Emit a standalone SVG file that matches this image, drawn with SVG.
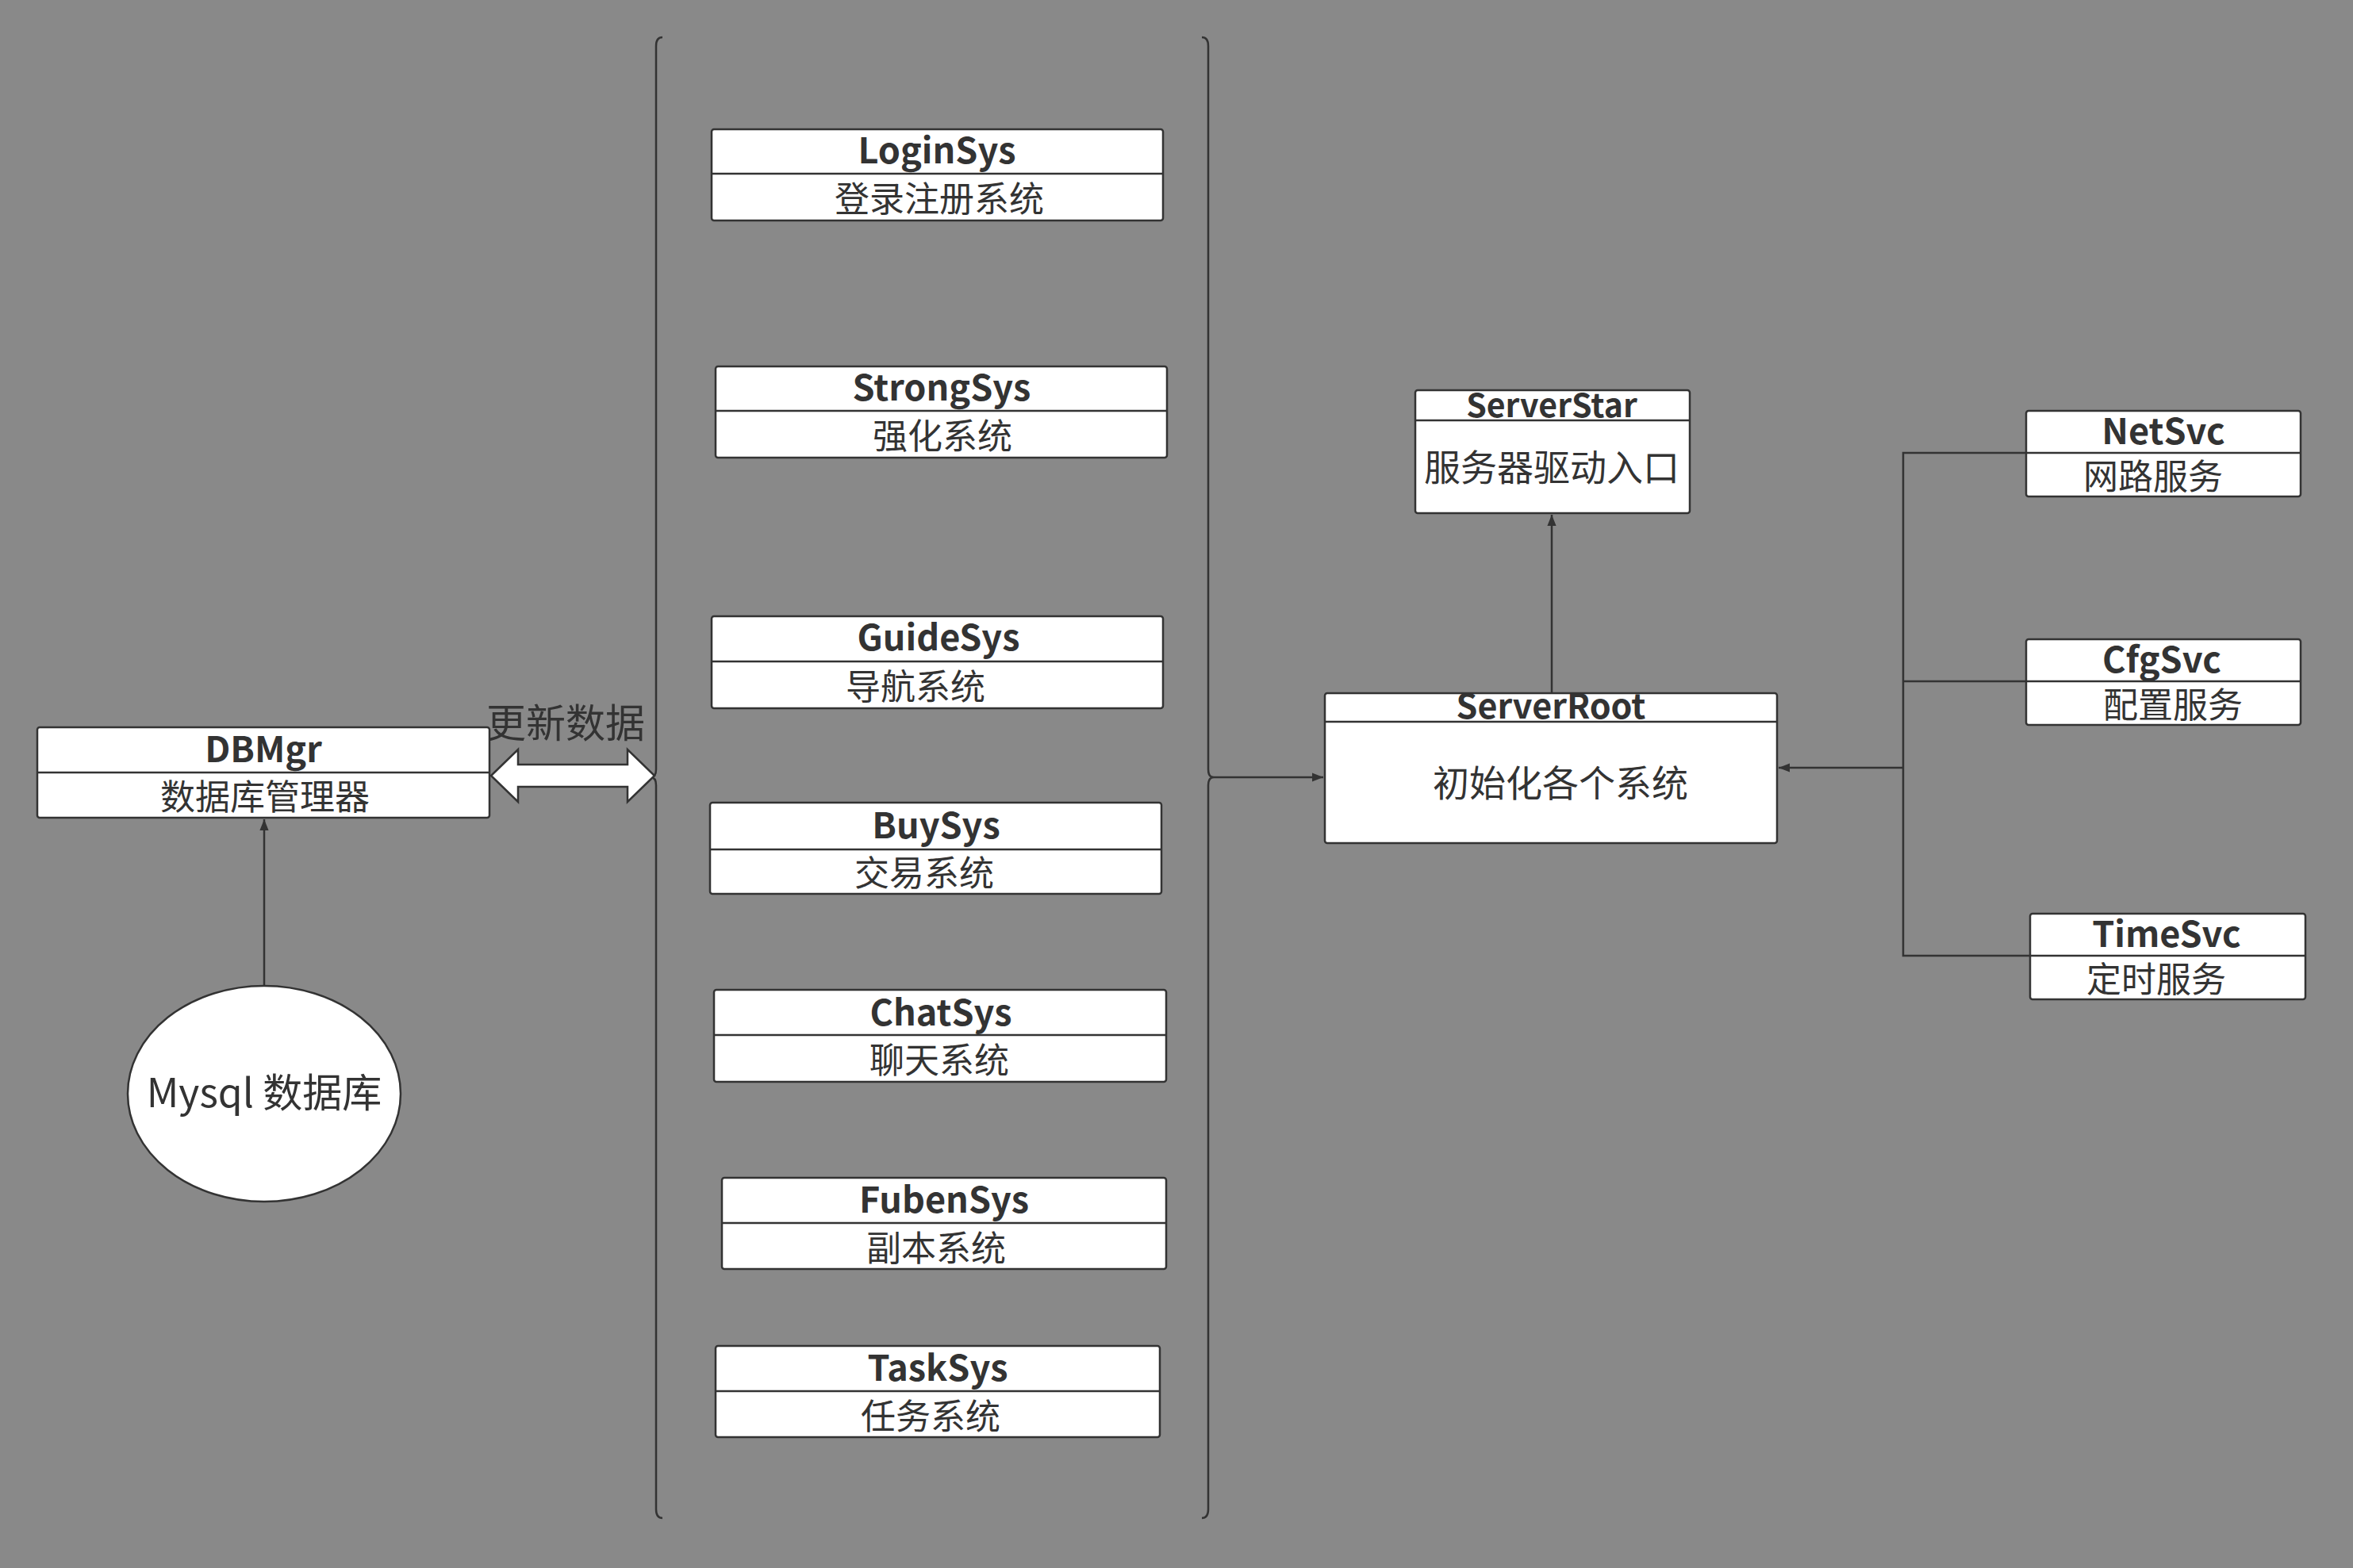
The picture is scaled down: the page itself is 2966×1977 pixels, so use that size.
<svg xmlns="http://www.w3.org/2000/svg" width="2966" height="1977" viewBox="0 0 2966 1977">
<defs>
<style>
.box{fill:#fff;stroke:#333;stroke-width:2.5}
.ln{fill:none;stroke:#333;stroke-width:2.5}
.t{font-family:"Noto Sans CJK SC","Noto Sans",sans-serif;font-weight:bold;font-size:45px;fill:#333;text-anchor:middle}
.s{font-family:"Noto Sans CJK SC","Noto Sans",sans-serif;font-size:44px;fill:#333;text-anchor:middle}
</style>
<marker id="ah2" viewBox="0 0 10 10" refX="10" refY="5" markerWidth="14" markerHeight="14" orient="auto" markerUnits="userSpaceOnUse">
<path d="M0,1 L10,5 L0,9 z" fill="#333"/>
</marker>
</defs>
<rect width="2966" height="1977" fill="#898989"/>
<g id="connectors">
<path class="ln" d="M835,47 Q827,47 827,58 L827,970 Q827,980 820,980 Q827,980 827,990 L827,1903 Q827,1914 835,1914"/>
<path class="ln" d="M1515,47 Q1523,47 1523,58 L1523,970 Q1523,980 1530,980 Q1523,980 1523,990 L1523,1903 Q1523,1914 1515,1914"/>
<path d="M619,978 L653,945 L653,964 L791,964 L791,945 L825,978 L791,1011 L791,992 L653,992 L653,1011 Z" fill="#fff" stroke="#333" stroke-width="2.5"/>
<text class="s" x="713" y="930" style="font-size:50px">更新数据</text>
<line class="ln" x1="333" y1="1243" x2="333" y2="1033" marker-end="url(#ah2)"/>
<line class="ln" x1="1530" y1="980" x2="1668" y2="980" marker-end="url(#ah2)"/>
<line class="ln" x1="1956" y1="874" x2="1956" y2="649" marker-end="url(#ah2)"/>
<path class="ln" d="M2554,571 L2399,571 L2399,1205 L2559,1205 M2399,859 L2554,859"/>
<line class="ln" x1="2399" y1="968" x2="2242" y2="968" marker-end="url(#ah2)"/>
</g>
<g id="DBMgr"><rect class="box" x="47" y="917" width="570" height="114" rx="3"/><line class="ln" x1="47" y1="974" x2="617" y2="974"/><text class="t" x="332" y="961">DBMgr</text><text class="s" x="334" y="1021">数据库管理器</text></g>
<g id="Mysql"><ellipse cx="333" cy="1379" rx="172" ry="136" fill="#fff" stroke="#333" stroke-width="2.5"/><text class="s" x="333" y="1396" style="font-size:50px">Mysql 数据库</text></g>
<g id="LoginSys"><rect class="box" x="897" y="163" width="569" height="115" rx="3"/><line class="ln" x1="897" y1="219" x2="1466" y2="219"/><text class="t" x="1181" y="206">LoginSys</text><text class="s" x="1184" y="267">登录注册系统</text></g>
<g id="StrongSys"><rect class="box" x="902" y="462" width="569" height="115" rx="3"/><line class="ln" x1="902" y1="518" x2="1471" y2="518"/><text class="t" x="1187" y="505">StrongSys</text><text class="s" x="1188" y="566">强化系统</text></g>
<g id="GuideSys"><rect class="box" x="897" y="777" width="569" height="116" rx="3"/><line class="ln" x1="897" y1="834" x2="1466" y2="834"/><text class="t" x="1183" y="820">GuideSys</text><text class="s" x="1154" y="882">导航系统</text></g>
<g id="BuySys"><rect class="box" x="895" y="1012" width="569" height="115" rx="3"/><line class="ln" x1="895" y1="1071" x2="1464" y2="1071"/><text class="t" x="1180" y="1057">BuySys</text><text class="s" x="1165" y="1117">交易系统</text></g>
<g id="ChatSys"><rect class="box" x="900" y="1248" width="570" height="116" rx="3"/><line class="ln" x1="900" y1="1305" x2="1470" y2="1305"/><text class="t" x="1186" y="1293">ChatSys</text><text class="s" x="1184" y="1353">聊天系统</text></g>
<g id="FubenSys"><rect class="box" x="910" y="1485" width="560" height="115" rx="3"/><line class="ln" x1="910" y1="1542" x2="1470" y2="1542"/><text class="t" x="1190" y="1529">FubenSys</text><text class="s" x="1180" y="1590">副本系统</text></g>
<g id="TaskSys"><rect class="box" x="902" y="1697" width="560" height="115" rx="3"/><line class="ln" x1="902" y1="1754" x2="1462" y2="1754"/><text class="t" x="1182" y="1741">TaskSys</text><text class="s" x="1173" y="1802">任务系统</text></g>
<g id="ServerStar"><rect class="box" x="1784" y="492" width="346" height="155" rx="3"/><line class="ln" x1="1784" y1="530" x2="2130" y2="530"/><text class="t" x="1956" y="526" style="font-size:41px">ServerStar</text><text class="s" x="1956" y="606" style="font-size:46px">服务器驱动入口</text></g>
<g id="ServerRoot"><rect class="box" x="1670" y="874" width="570" height="189" rx="3"/><line class="ln" x1="1670" y1="910" x2="2240" y2="910"/><text class="t" x="1955" y="906" style="font-size:43px">ServerRoot</text><text class="s" x="1967" y="1004" style="font-size:46px">初始化各个系统</text></g>
<g id="NetSvc"><rect class="box" x="2554" y="518" width="346" height="108" rx="3"/><line class="ln" x1="2554" y1="571" x2="2900" y2="571"/><text class="t" x="2727" y="560">NetSvc</text><text class="s" x="2714" y="617">网路服务</text></g>
<g id="CfgSvc"><rect class="box" x="2554" y="806" width="346" height="108" rx="3"/><line class="ln" x1="2554" y1="859" x2="2900" y2="859"/><text class="t" x="2725" y="848">CfgSvc</text><text class="s" x="2739" y="905">配置服务</text></g>
<g id="TimeSvc"><rect class="box" x="2559" y="1152" width="347" height="108" rx="3"/><line class="ln" x1="2559" y1="1205" x2="2906" y2="1205"/><text class="t" x="2731" y="1194">TimeSvc</text><text class="s" x="2718" y="1251">定时服务</text></g>
</svg>
